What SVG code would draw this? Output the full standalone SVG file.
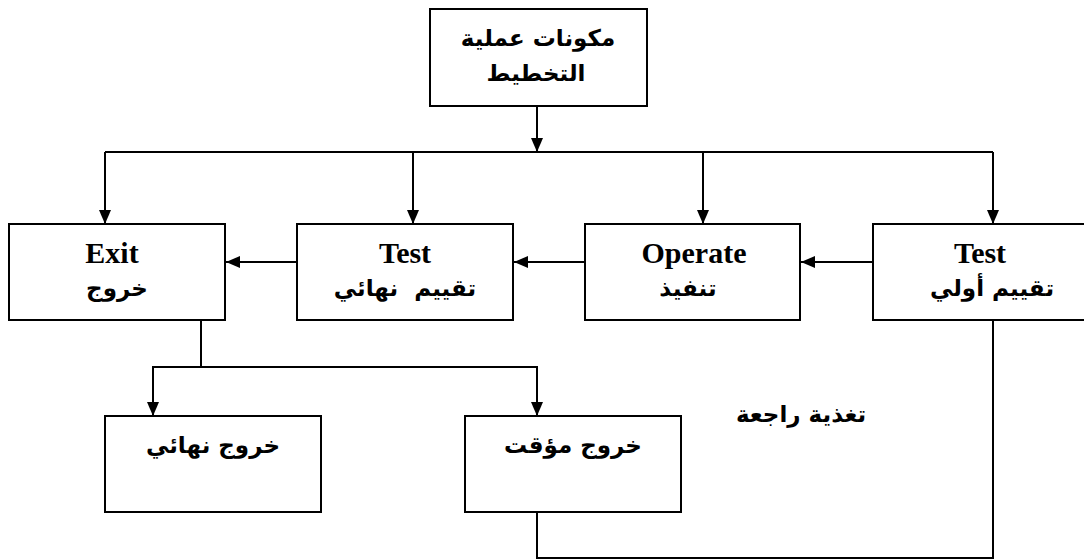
<svg xmlns="http://www.w3.org/2000/svg" width="1084" height="560" viewBox="0 0 1084 560">
<style>
.box{fill:#fff;stroke:#000;stroke-width:2}
.ln{fill:none;stroke:#000;stroke-width:2}
.en{font-family:"Liberation Serif","Times New Roman",serif;font-weight:bold;font-size:30px;text-anchor:middle;fill:#000}
.ar{font-family:"DejaVu Sans",sans-serif;font-weight:bold;font-size:23px;text-anchor:middle;fill:#000}
</style>
<defs>
<marker id="ah" viewBox="0 0 14 12" refX="14" refY="6" markerWidth="14" markerHeight="12" markerUnits="userSpaceOnUse" orient="auto">
<path d="M0,0 L14,6 L0,12 Z" fill="#000"/>
</marker>
</defs>
<rect width="1084" height="560" fill="#fff"/>
<g id="connectors">
<path class="ln" d="M537,106 V152" marker-end="url(#ah)"/>
<path class="ln" d="M105,152 H993"/>
<path class="ln" d="M105,152 V224" marker-end="url(#ah)"/>
<path class="ln" d="M413,152 V224" marker-end="url(#ah)"/>
<path class="ln" d="M703,152 V224" marker-end="url(#ah)"/>
<path class="ln" d="M993,152 V224" marker-end="url(#ah)"/>
<path class="ln" d="M873,262 H801" marker-end="url(#ah)"/>
<path class="ln" d="M585,262 H514" marker-end="url(#ah)"/>
<path class="ln" d="M297,262 H226" marker-end="url(#ah)"/>
<path class="ln" d="M201,320 V367 H153 V416" marker-end="url(#ah)"/>
<path class="ln" d="M201,367 H537 V416" marker-end="url(#ah)"/>
<path class="ln" d="M993,320 V558 H537 V512"/>
</g>
<g id="node-planning">
<rect class="box" x="430" y="9" width="217" height="97"/>
<text class="ar" x="538" y="46">مكونات عملية</text>
<text class="ar" x="536" y="81">التخطيط</text>
</g>
<g id="node-exit">
<rect class="box" x="9" y="224" width="216" height="96"/>
<text class="en" x="112" y="263">Exit</text>
<text class="ar" x="117" y="296">خروج</text>
</g>
<g id="node-test-final">
<rect class="box" x="297" y="224" width="216" height="96"/>
<text class="en" x="405" y="263">Test</text>
<text class="ar" x="405" y="296" xml:space="preserve">تقييم  نهائي</text>
</g>
<g id="node-operate">
<rect class="box" x="585" y="224" width="215" height="96"/>
<text class="en" x="694" y="263">Operate</text>
<text class="ar" x="688" y="296">تنفيذ</text>
</g>
<g id="node-test-initial">
<rect class="box" x="873" y="224" width="217" height="96"/>
<text class="en" x="980" y="263">Test</text>
<text class="ar" x="992" y="296">تقييم أولي</text>
</g>
<g id="node-final-exit">
<rect class="box" x="105" y="416" width="216" height="96"/>
<text class="ar" x="213" y="453">خروج نهائي</text>
</g>
<g id="node-temp-exit">
<rect class="box" x="465" y="416" width="216" height="96"/>
<text class="ar" x="573" y="453">خروج مؤقت</text>
</g>
<g id="label-feedback">
<text class="ar" x="801" y="422">تغذية راجعة</text>
</g>
</svg>
